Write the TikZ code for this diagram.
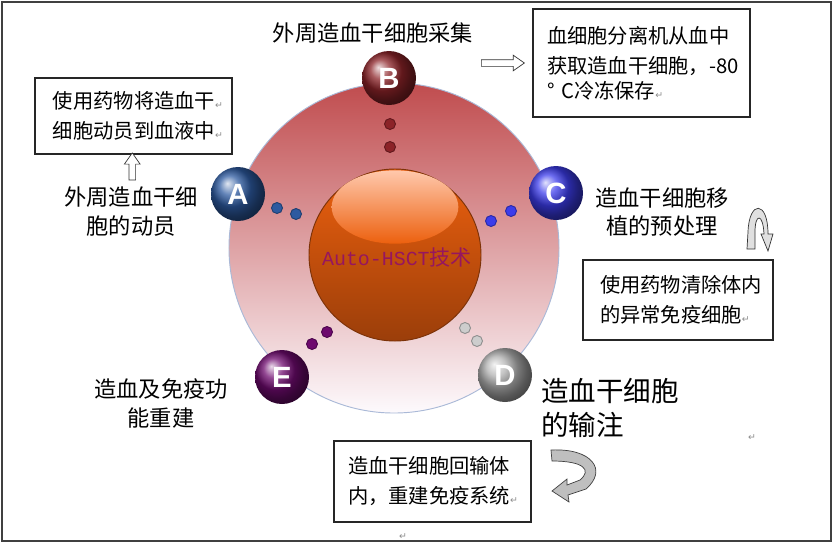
\documentclass[tikz,border=0pt]{standalone}
\usepackage{fontspec}
\setmainfont{Noto Sans CJK SC}
\newfontfamily\monofnt{Liberation Mono}
\newfontfamily\latinfnt{Liberation Sans}
\newfontfamily\symfnt{DejaVu Sans}
\usetikzlibrary{shapes.arrows,calc}
\definecolor{ringtop}{RGB}{192,76,78}
\definecolor{ringmid}{RGB}{222,158,163}
\definecolor{ringbot}{RGB}{253,250,253}
\definecolor{ringedge}{RGB}{170,185,215}
\definecolor{sphtop}{RGB}{236,96,14}
\definecolor{sphmid}{RGB}{238,102,18}
\definecolor{sphbot}{RGB}{155,62,10}
\definecolor{coretext}{RGB}{150,22,95}
\definecolor{colA}{RGB}{45,90,160}
\definecolor{colB}{RGB}{140,35,40}
\definecolor{colC}{RGB}{60,60,235}
\definecolor{colD}{RGB}{175,175,175}
\definecolor{colE}{RGB}{110,10,110}
\definecolor{dotD}{RGB}{205,205,205}
\newcommand\retmark{{\symfnt\fontsize{8}{8}\selectfont\color{black!45}↵}}

\begin{document}
\begin{tikzpicture}[x=0.03cm, y=-0.03cm,
  infobox/.style={draw=black!85, line width=0.9pt, align=left, inner xsep=0pt,
    font=\fontsize{17.3}{25.6}\selectfont},
  steplabel/.style={align=center, font=\fontsize{19}{24.7}\selectfont},
  ballnode/.style={circle, minimum size=16.2mm, inner sep=0pt, text=white,
    font=\latinfnt\bfseries\fontsize{25}{25}\selectfont},
  smalldot/.style={circle, minimum size=3.3mm, inner sep=0pt, line width=0.8pt},
  hollowarrow/.style={single arrow, draw=black!80, fill=white, line width=0.6pt,
    inner sep=0.9mm, single arrow head extend=1.35mm, single arrow tip angle=70}]
\useasboundingbox (0,0) rectangle (838,547);
\draw[black!75, line width=1.5pt] (2,2) rectangle (831,541);

% ring and centre sphere
\shade[top color=ringtop, middle color=ringmid, bottom color=ringbot, draw=ringedge, line width=0.8pt]
  (394,248) circle (49.5mm);
\shade[top color=sphtop, middle color=sphmid, bottom color=sphbot, draw=sphbot!80!black, line width=0.8pt]
  (395,255) circle (25.8mm);
\shade[top color={rgb,255:red,255;green,200;blue,172}, bottom color=sphtop]
  (395,207) ellipse [x radius=19mm, y radius=11mm];
\node[text=coretext, font=\fontsize{18}{18}\selectfont] (core) at (397,257)
  {{\monofnt\fontsize{17}{17}\selectfont Auto-HSCT}技术};

% small dots
\foreach \nm/\x/\y/\c in {B1/390/124/colB, B2/390/147/colB, A1/277/208/colA, A2/296/214/colA,
    C1/491/221/colC, C2/511/211/colC, D1/465/328/dotD, D2/477/341/dotD,
    E1/312/344/colE, E2/327/332/colE}
  \node[smalldot, fill=\c, draw=\c!70!black] (d\nm) at (\x,\y) {};

% step balls
\node[ballnode, ball color=colA] (A) at (238,194) {A};
\node[ballnode, ball color=colB] (B) at (389,78) {B};
\node[ballnode, ball color=colC] (C) at (556,193) {C};
\node[ballnode, ball color=colD] (D) at (505,375) {D};
\node[ballnode, ball color=colE] (E) at (282,377) {E};

% step labels
\node[steplabel] (lblB) at (373,33) {外周造血干细胞采集};
\node[steplabel] (lblA) at (131,212) {外周造血干细\\胞的动员};
\node[steplabel] (lblC) at (662,212) {造血干细胞移\\植的预处理};
\node[steplabel, align=left, anchor=west, font=\fontsize{23.5}{29}\selectfont] (lblD) at (537,408) {造血干细胞\\的输注};
\node[steplabel] (lblE) at (161,403) {造血及免疫功\\能重建};

% notes
\node[infobox, minimum width=59.1mm, minimum height=22.8mm, text width=48.3mm] (boxA) at (133.5,116)
  {使用药物将造血干\retmark\\细胞动员到血液中\retmark};
\node[infobox, minimum width=65.1mm, minimum height=32.4mm, text width=56.7mm] (boxB) at (641.5,63)
  {血细胞分离机从血中\\\mbox{获取造血干细胞，-80}\\[-4pt]° C冷冻保存\retmark};
\node[infobox, minimum width=57mm, minimum height=24mm, text width=46.8mm] (boxC) at (678,300)
  {使用药物清除体内\\的异常免疫细胞\retmark};
\node[infobox, minimum width=59.1mm, minimum height=24.3mm, text width=50.7mm] (boxD) at (432.5,481.5)
  {造血干细胞回输体\\内，重建免疫系统\retmark};
\node[inner sep=0pt] (ret1) at (752,438) {\retmark};
\node[inner sep=0pt] (ret2) at (403,537) {\retmark};

% arrows
\node[hollowarrow, rotate=90, minimum height=8.1mm] (arrA) at ($(lblA.north)!0.5!(boxA.south)$) {};
\node[hollowarrow, minimum height=12.9mm] (arrB) at ($(lblB.east |- boxB.west)!0.42!(boxB.west)$) {};
\filldraw[fill=black!12, draw=black!80, line width=0.6pt] (747,249) -- (748,232)
  .. controls (749,200) and (768,200) .. (768,234) -- (773,234) -- (768,251) -- (761,234) -- (764,234)
  .. controls (763,213) and (755,213) .. (755,232) -- (755,249) -- cycle;
\filldraw[fill=black!25, draw=black!75, line width=0.6pt] (551,450)
  .. controls (592,448) and (608,470) .. (586,489) -- (568,495) -- (569,502) -- (552,491) -- (567,479)
  -- (567,485) -- (580,480) .. controls (592,470) and (584,461) .. (552,461) -- cycle;
\end{tikzpicture}
\end{document}
